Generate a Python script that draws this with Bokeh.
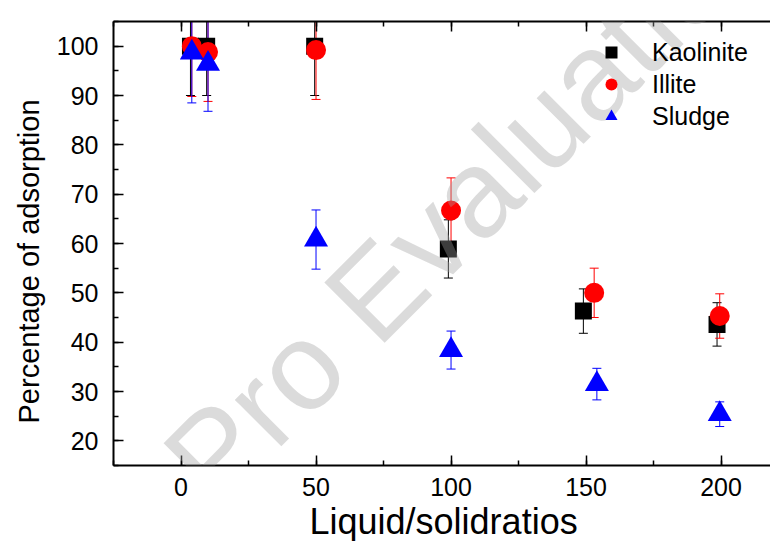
from bokeh.plotting import figure
from bokeh.models import (ColumnDataSource, Range1d, LinearAxis, SingleIntervalTicker,
                          Whisker, TeeHead, Label, Title, CustomLabelingPolicy)
from bokeh.embed import file_html
from bokeh.resources import INLINE

# ---- data ----
series_names = ["Kaolinite", "Illite", "Sludge"]

kaolinite_x = [3.5, 9.5, 49.5, 99, 149, 198.5]
kaolinite_y = [100, 100, 100, 58.9, 46.3, 43.6]
kaolinite_err = [10, 10, 10, 5.9, 4.5, 4.4]

illite_x = [4, 10, 50, 100, 153, 199.5]
illite_y = [100, 98.8, 99.2, 66.7, 50.0, 45.3]
illite_err = [10.2, 10, 10, 6.6, 5.0, 4.5]

sludge_x = [4, 10, 50, 100, 154, 199.5]
sludge_y = [98.7, 96.4, 60.8, 38.4, 31.5, 25.4]
sludge_err = [10.2, 9.6, 6.0, 3.85, 3.2, 2.5]

x_label = "Liquid/solidratios"
y_label = "Percentage of adsorption"
watermark = "PDF Pro Evaluation"
watermark_anchor = (-72.0, -28.5)   # baseline start of the overlay text, data units

FONT = "Liberation Sans"

p = figure(width=770, height=541, output_backend="svg", toolbar_location=None,
           x_range=Range1d(-25, 218.3), y_range=Range1d(15, 105),
           min_border_left=113, min_border_right=0, min_border_top=15, min_border_bottom=76)
p.outline_line_color = None
p.xgrid.visible = False
p.ygrid.visible = False
p.background_fill_color = "white"

top_axis = LinearAxis()
p.add_layout(top_axis, "above")

xt = SingleIntervalTicker(interval=50, num_minor_ticks=2)
yt = SingleIntervalTicker(interval=10, num_minor_ticks=2)

for ax in p.xaxis:
    ax.ticker = xt
for ax in p.yaxis:
    ax.ticker = yt

for ax in list(p.xaxis) + list(p.yaxis):
    ax.axis_line_width = 2
    ax.axis_line_color = "black"
    ax.major_tick_in = 10
    ax.major_tick_out = 0
    ax.minor_tick_in = 5
    ax.minor_tick_out = 0
    ax.major_tick_line_width = 1.5
    ax.minor_tick_line_width = 1.5
    ax.major_tick_line_color = "black"
    ax.minor_tick_line_color = "black"
    ax.major_label_text_font = FONT
    ax.major_label_text_font_size = "25px"
    ax.major_label_text_color = "black"

bottom = p.below[0]
bottom.major_label_standoff = 12

left = p.left[0]
left.major_label_standoff = 15

top_axis.major_label_standoff = 0
top_axis.major_label_policy = CustomLabelingPolicy(code="""
const n = indices.size
for (let i = 0; i < n; i++) { indices.unset(i) }
return indices
""")

p.add_layout(Title(text=x_label, align="left", offset=196, standoff=0,
                   text_font=FONT, text_font_size="36px", text_font_style="normal",
                   text_color="black"), "below")
p.add_layout(Title(text=y_label, align="left", offset=42, standoff=17,
                   text_font=FONT, text_font_size="29px", text_font_style="normal",
                   text_color="black"), "left")

def draw(xs, ys, errs, color, marker, size, name):
    src = ColumnDataSource(dict(x=xs, y=ys,
                                lower=[y - e for y, e in zip(ys, errs)],
                                upper=[y + e for y, e in zip(ys, errs)]))
    p.scatter("x", "y", source=src, marker=marker, size=size, fill_color=color,
              line_color=color, line_width=0, legend_label=name)
    return src

srcs = [
    (draw(kaolinite_x, kaolinite_y, kaolinite_err, "black", "square", 17, series_names[0]), "black"),
    (draw(illite_x, illite_y, illite_err, "red", "circle", 20, series_names[1]), "red"),
    (draw(sludge_x, sludge_y, sludge_err, "blue", "triangle", 24, series_names[2]), "blue"),
]

for src, color in srcs:
    w = Whisker(source=src, base="x", lower="lower", upper="upper", dimension="height",
                line_color=color, line_width=1,
                upper_head=TeeHead(size=9, line_color=color, line_width=1),
                lower_head=TeeHead(size=9, line_color=color, line_width=1))
    p.add_layout(w)

leg = p.legend[0]
leg.location = (483, 334)
leg.border_line_color = None
leg.background_fill_alpha = 0
leg.padding = 0
leg.margin = 0
leg.spacing = 2
leg.glyph_width = 30
leg.glyph_height = 30
leg.label_height = 30
leg.label_standoff = 26
leg.label_text_font = FONT
leg.label_text_font_size = "25px"
leg.label_text_color = "black"

wm = Label(x=watermark_anchor[0], y=watermark_anchor[1], text=watermark,
           angle=45, angle_units="deg", text_align="left", text_baseline="alphabetic",
           text_font=FONT, text_font_size="124px", text_color="#a0a0a0", text_alpha=0.38)
p.add_layout(wm)

open("out.html", "w").write(file_html(p, INLINE))
